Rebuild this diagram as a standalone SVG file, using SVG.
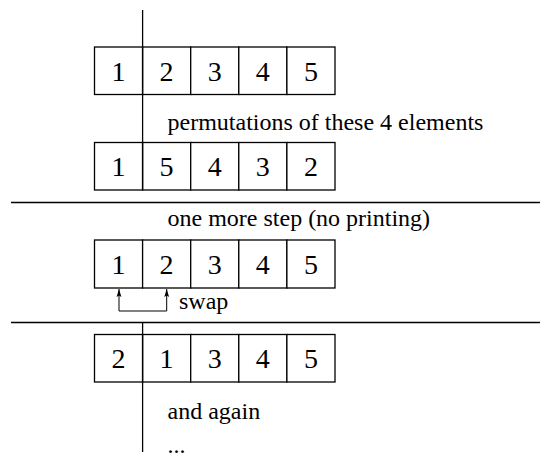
<svg xmlns="http://www.w3.org/2000/svg" width="540" height="455" viewBox="0 0 540 455">
  <style>
    .cell { fill: #fff; stroke: #000; stroke-width: 1.3; }
    .num { font-size: 28px; text-anchor: middle; fill: #000; }
    .lbl { font-size: 24px; fill: #000; }
    .rule { stroke: #000; stroke-width: 1.3; fill: none; }
    .arr { stroke: #000; stroke-width: 1; fill: none; }
  </style>
  <defs>
    <marker id="tip" viewBox="0 0 10 10" refX="10" refY="5" markerWidth="8" markerHeight="8" markerUnits="userSpaceOnUse" orient="auto">
      <path d="M0,2 L10,5 L0,8 L2,5 Z" fill="#000"/>
    </marker>
  </defs>

  <g font-family="'Liberation Serif', 'DejaVu Serif', 'Times New Roman', serif">
  <!-- array state: initial -->
  <g id="row1">
    <rect class="cell" x="94.5" y="47" width="48.1" height="47.5"/>
    <rect class="cell" x="142.6" y="47" width="48.1" height="47.5"/>
    <rect class="cell" x="190.7" y="47" width="48.1" height="47.5"/>
    <rect class="cell" x="238.8" y="47" width="48.1" height="47.5"/>
    <rect class="cell" x="286.9" y="47" width="48.1" height="47.5"/>
    <text class="num" x="118.5" y="80.5">1</text>
    <text class="num" x="166.6" y="80.5">2</text>
    <text class="num" x="214.7" y="80.5">3</text>
    <text class="num" x="262.8" y="80.5">4</text>
    <text class="num" x="310.9" y="80.5">5</text>
  </g>

  <!-- array state: after all permutations of the tail -->
  <g id="row2">
    <rect class="cell" x="94.5" y="142.5" width="48.1" height="47.5"/>
    <rect class="cell" x="142.6" y="142.5" width="48.1" height="47.5"/>
    <rect class="cell" x="190.7" y="142.5" width="48.1" height="47.5"/>
    <rect class="cell" x="238.8" y="142.5" width="48.1" height="47.5"/>
    <rect class="cell" x="286.9" y="142.5" width="48.1" height="47.5"/>
    <text class="num" x="118.5" y="176">1</text>
    <text class="num" x="166.6" y="176">5</text>
    <text class="num" x="214.7" y="176">4</text>
    <text class="num" x="262.8" y="176">3</text>
    <text class="num" x="310.9" y="176">2</text>
  </g>

  <!-- array state: before the swap -->
  <g id="row3">
    <rect class="cell" x="94.5" y="240" width="48.1" height="48"/>
    <rect class="cell" x="142.6" y="240" width="48.1" height="48"/>
    <rect class="cell" x="190.7" y="240" width="48.1" height="48"/>
    <rect class="cell" x="238.8" y="240" width="48.1" height="48"/>
    <rect class="cell" x="286.9" y="240" width="48.1" height="48"/>
    <text class="num" x="118.5" y="273.5">1</text>
    <text class="num" x="166.6" y="273.5">2</text>
    <text class="num" x="214.7" y="273.5">3</text>
    <text class="num" x="262.8" y="273.5">4</text>
    <text class="num" x="310.9" y="273.5">5</text>
  </g>

  <!-- array state: after the swap -->
  <g id="row4">
    <rect class="cell" x="94.5" y="334.5" width="48.1" height="47.5"/>
    <rect class="cell" x="142.6" y="334.5" width="48.1" height="47.5"/>
    <rect class="cell" x="190.7" y="334.5" width="48.1" height="47.5"/>
    <rect class="cell" x="238.8" y="334.5" width="48.1" height="47.5"/>
    <rect class="cell" x="286.9" y="334.5" width="48.1" height="47.5"/>
    <text class="num" x="118.5" y="368">2</text>
    <text class="num" x="166.6" y="368">1</text>
    <text class="num" x="214.7" y="368">3</text>
    <text class="num" x="262.8" y="368">4</text>
    <text class="num" x="310.9" y="368">5</text>
  </g>

  <!-- captions -->
  <g id="captions">
    <text class="lbl" x="167.5" y="130">permutations of these 4 elements</text>
    <text class="lbl" x="167.5" y="226">one more step (no printing)</text>
    <text class="lbl" x="179" y="309">swap</text>
    <text class="lbl" x="167.5" y="419">and again</text>
    <text class="lbl" x="167.5" y="453">...</text>
  </g>
  </g>

  <!-- split markers and separators -->
  <g id="connectors">
    <line class="rule" x1="142.6" y1="10" x2="142.6" y2="190"/>
    <line class="rule" x1="11" y1="202.5" x2="540" y2="202.5"/>
    <line class="rule" x1="11" y1="322.5" x2="540" y2="322.5"/>
    <line class="rule" x1="142.6" y1="322.5" x2="142.6" y2="452"/>
    <polyline class="arr" points="119,311 166.7,311"/>
    <line class="arr" x1="119" y1="311" x2="119" y2="289" marker-end="url(#tip)"/>
    <line class="arr" x1="166.7" y1="311" x2="166.7" y2="289" marker-end="url(#tip)"/>
  </g>
</svg>
